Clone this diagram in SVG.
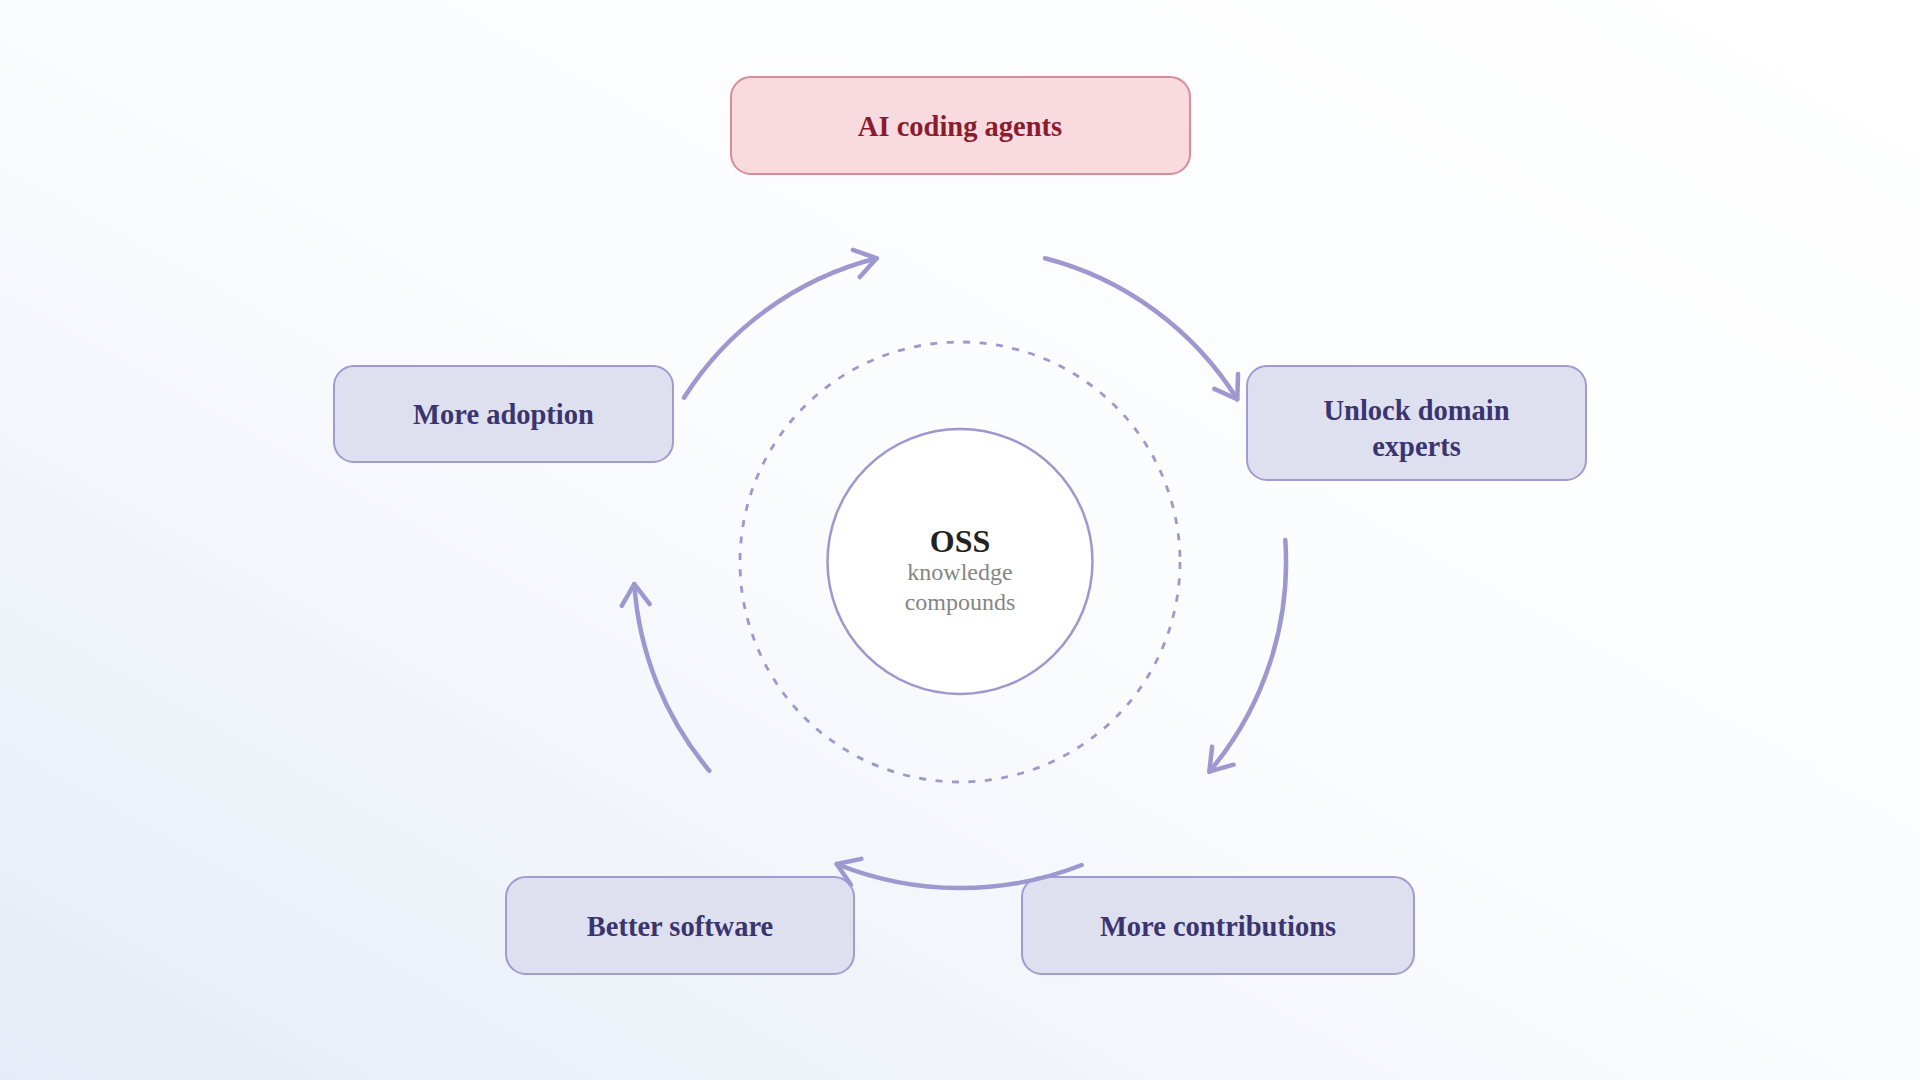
<svg xmlns="http://www.w3.org/2000/svg" width="1920" height="1080" viewBox="0 0 1920 1080">
  <defs>
    <linearGradient id="bg" x1="1" y1="0" x2="0" y2="1">
      <stop offset="0" stop-color="#ffffff"/>
      <stop offset="0.5" stop-color="#fbfcfe"/>
      <stop offset="1" stop-color="#e5ecf7"/>
    </linearGradient>
    <marker id="arrow" viewBox="-30 -20 40 40" refX="0" refY="0" markerWidth="40" markerHeight="40" markerUnits="userSpaceOnUse" orient="auto">
      <path d="M -21 -14 L 0 0 L -21 14" fill="none" stroke="#9d98cf" stroke-width="4.5" stroke-linecap="round" stroke-linejoin="round"/>
    </marker>
    <style>
      .box { fill: #dfe0ef; stroke: #a09bd0; stroke-width: 2; }
      .hot { fill: #f9dade; stroke: #d68d98; stroke-width: 2; }
      .lbl { font-family: "Liberation Serif", "Times New Roman", serif; font-weight: bold; font-size: 28.5px; fill: #3a3470; text-anchor: middle; }
      .hotlbl { fill: #8a1c2e; }
      .conn { fill: none; stroke: #9d98cf; stroke-width: 4.5; stroke-linecap: round; marker-end: url(#arrow); }
      .conn-plain { fill: none; stroke: #9d98cf; stroke-width: 4.5; stroke-linecap: round; }
    </style>
  </defs>
  <rect x="0" y="0" width="1920" height="1080" fill="url(#bg)"/>

  <g id="ring">
    <circle cx="960" cy="562" r="220" fill="none" stroke="#9d98cf" stroke-width="2.8" stroke-dasharray="7 9.5"/>
  </g>

  <g id="center">
    <circle cx="960" cy="561.5" r="132.5" fill="#ffffff" stroke="#9d98cf" stroke-width="2.5"/>
    <text x="960" y="552" font-family="Liberation Serif, Times New Roman, serif" font-weight="bold" font-size="32" fill="#222222" text-anchor="middle">OSS</text>
    <text x="960" y="580" font-family="Liberation Serif, Times New Roman, serif" font-size="24" fill="#858585" text-anchor="middle">knowledge</text>
    <text x="960" y="609.5" font-family="Liberation Serif, Times New Roman, serif" font-size="24" fill="#858585" text-anchor="middle">compounds</text>
  </g>

  <g id="node-ai">
    <rect class="hot" x="731" y="77" width="459" height="97" rx="20"/>
    <text class="lbl hotlbl" x="960" y="136">AI coding agents</text>
  </g>
  <g id="node-unlock">
    <rect class="box" x="1247" y="366" width="339" height="114" rx="20"/>
    <text class="lbl" x="1416.5" y="419.5">Unlock domain</text>
    <text class="lbl" x="1416.5" y="456">experts</text>
  </g>
  <g id="node-contrib">
    <rect class="box" x="1022" y="877" width="392" height="97" rx="20"/>
    <text class="lbl" x="1218" y="936">More contributions</text>
  </g>
  <g id="node-better">
    <rect class="box" x="506" y="877" width="348" height="97" rx="20"/>
    <text class="lbl" x="680" y="936">Better software</text>
  </g>
  <g id="node-adoption">
    <rect class="box" x="334" y="366" width="339" height="96" rx="20"/>
    <text class="lbl" x="503.5" y="424">More adoption</text>
  </g>

  <g id="connectors">
    <path class="conn" d="M 684 397.7 A 322 322 0 0 1 876.7 258.3"/>
    <path class="conn" d="M 1045 258.3 A 322 322 0 0 1 1237.3 399.3"/>
    <path class="conn" d="M 1285.3 540 A 325 325 0 0 1 1209.3 771.7"/>
    <path class="conn" d="M 1081.7 865 A 330 330 0 0 1 836.7 864"/>
    <path class="conn" d="M 709.3 770.7 A 325 325 0 0 1 634.3 584"/>
  </g>
</svg>
